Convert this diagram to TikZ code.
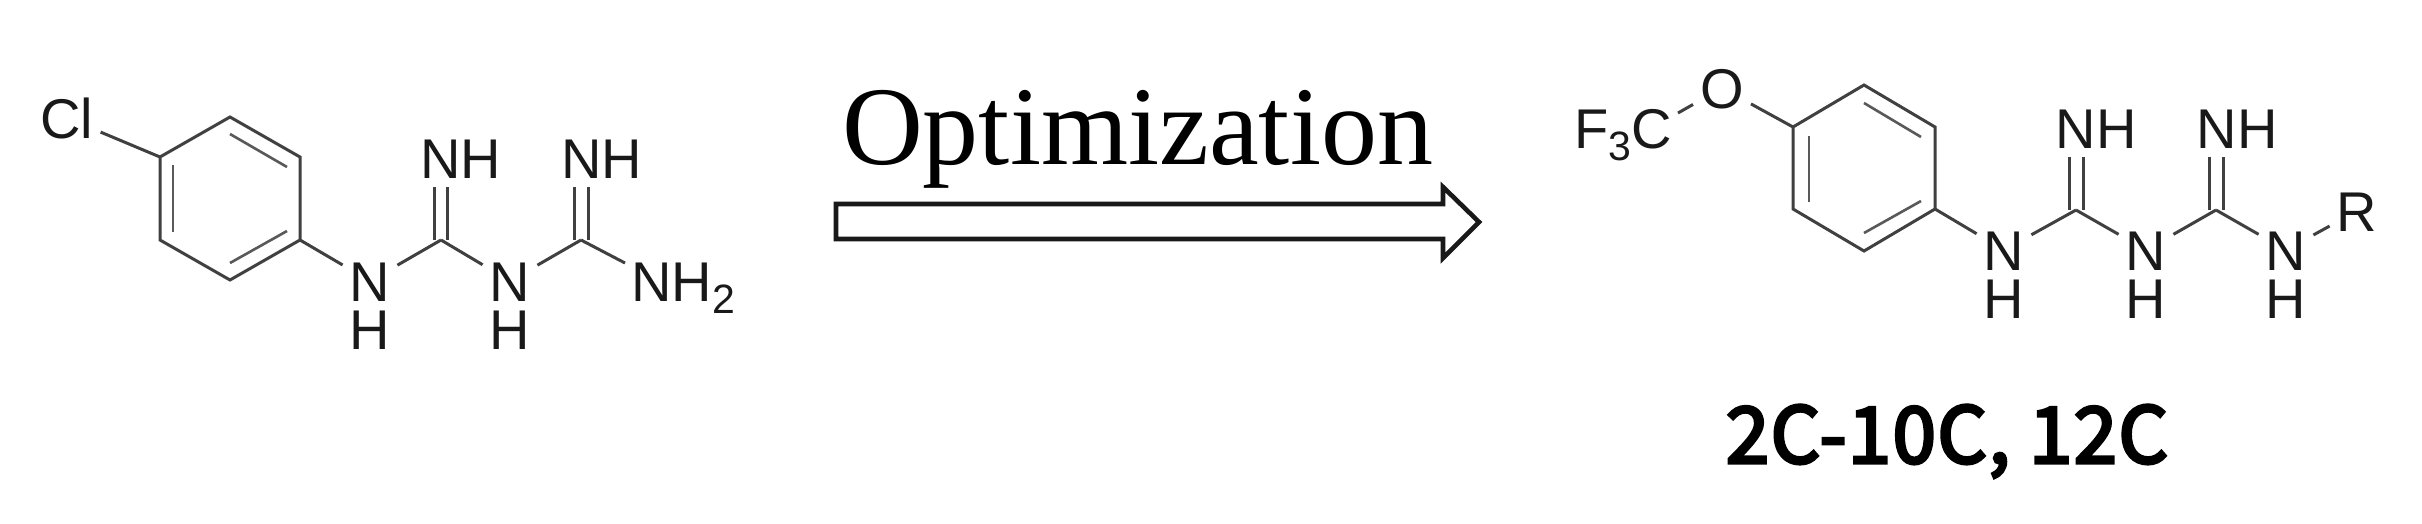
\documentclass[tikz,border=0pt]{standalone}
\usepackage{fontspec}
\usetikzlibrary{calc}
\setmainfont{Liberation Sans}
\newfontfamily\serifface{Liberation Serif}
\newfontfamily\labelface[FakeBold=4,LetterSpace=1.8]{Noto Sans CJK SC}
\tikzset{
  x=1pt,y=-1pt,
  atom/.style={inner sep=7pt,text height=40pt,text depth=0pt,anchor=center,text=black!90,font=\fontsize{56}{56}\selectfont},
  hatom/.style={atom,inner sep=0pt},
  imine/.style={atom,inner xsep=2pt,inner ysep=9pt},
  bond/.style={line width=3pt,draw=black!75,line join=miter},
  thinbond/.style={line width=2.6pt,draw=black!65},
  bigarrow/.style={line width=4.6pt,draw=black!90,fill=white,line join=miter},
}
\newcommand{\subdigit}[1]{\raisebox{-12pt}{\fontsize{41}{41}\selectfont #1}}
\begin{document}
\begin{tikzpicture}
\useasboundingbox (0,0) rectangle (2422,523);
\fill[white] (0,0) rectangle (2422,523);
% ---- left molecule
\coordinate (a1) at (230,117); \coordinate (a2) at (300,157); \coordinate (a3) at (300,240);
\coordinate (a4) at (230,280); \coordinate (a5) at (160,240); \coordinate (a6) at (160,157);
\coordinate (c1) at (441,240); \coordinate (c2) at (581,240);
\node[atom] (cl) at (67,118) {Cl};
\node[atom] (n1) at (370,281) {N};
\node[hatom] (h1) at (370,329) {H};
\node[atom] (n2) at (510,281) {N};
\node[hatom] (h2) at (510,329) {H};
\node[imine] (im1) at (461,158) {NH};
\node[imine] (im2) at (602,158) {NH};
\node[atom,anchor=west,inner sep=0pt] (nh2) at (631,281) {NH\subdigit{2}};
\coordinate (nh2end) at (625,263);
\draw[bond] (a1)--(a2)--(a3)--(a4)--(a5)--(a6)--cycle;
\draw[thinbond] (173,165)--(173,232);
\draw[thinbond] (230,134)--(287,167);
\draw[thinbond] (230,263)--(287,231);
\draw[bond] (cl)--(a6);
\draw[bond] (a3)--(n1);
\draw[bond] (n1)--(c1);
\draw[bond] (c1)--(n2);
\draw[bond] (n2)--(c2);
\draw[bond] (c2)--(nh2end);
\draw[bond] ([xshift=-6.5pt]c1)--([xshift=-6.5pt]c1|-im1.south);
\draw[bond] ([xshift=6.5pt]c1)--([xshift=6.5pt]c1|-im1.south);
\draw[bond] ([xshift=-7pt]c2)--([xshift=-7pt]c2|-im2.south);
\draw[bond] ([xshift=7pt]c2)--([xshift=7pt]c2|-im2.south);
% ---- arrow
\coordinate (t0) at (836,204); \coordinate (t1) at (1443,204); \coordinate (t2) at (1443,187);
\coordinate (tip) at (1479,222);
\coordinate (t3) at (1443,258); \coordinate (t4) at (1443,239); \coordinate (t5) at (836,239);
\draw[bigarrow] (t0)--(t1)--(t2)--(tip)--(t3)--(t4)--(t5)--cycle;
\node[inner sep=0pt,anchor=base,font=\serifface\fontsize{112}{112}\selectfont] (opt) at (1137.5,164) {Optimization};
% ---- right molecule
\coordinate (b1) at (1864,85); \coordinate (b2) at (1935,127); \coordinate (b3) at (1935,209);
\coordinate (b4) at (1864,251); \coordinate (b5) at (1793,209); \coordinate (b6) at (1793,127);
\coordinate (d1) at (2076,210); \coordinate (d2) at (2216,210);
\node[atom] (ox) at (1722,88) {O};
\node[atom,anchor=west,inner sep=0pt] (f3c) at (1574,128) {F\subdigit{3}C};
\coordinate (f3cend) at (1678,113);
\node[atom] (rn1) at (2004,250) {N};
\node[hatom] (rh1) at (2004,298) {H};
\node[atom] (rn2) at (2146,250) {N};
\node[hatom] (rh2) at (2146,298) {H};
\node[atom] (rn3) at (2286,250) {N};
\node[hatom] (rh3) at (2286,298) {H};
\node[atom] (rr) at (2357,211) {R};
\node[imine] (rim1) at (2096,128) {NH};
\node[imine] (rim2) at (2237,128) {NH};
\draw[bond] (b1)--(b2)--(b3)--(b4)--(b5)--(b6)--cycle;
\draw[thinbond] (1809,136)--(1809,202);
\draw[thinbond] (1864,103)--(1921,137);
\draw[thinbond] (1864,233)--(1921,201);
\draw[bond] (ox)--(b6);
\draw[bond] (ox)--(f3cend);
\draw[bond] (b3)--(rn1);
\draw[bond] (rn1)--(d1);
\draw[bond] (d1)--(rn2);
\draw[bond] (rn2)--(d2);
\draw[bond] (d2)--(rn3);
\draw[bond] (rn3)--(rr);
\draw[bond] ([xshift=-7pt]d1)--([xshift=-7pt]d1|-rim1.south);
\draw[bond] ([xshift=7pt]d1)--([xshift=7pt]d1|-rim1.south);
\draw[bond] ([xshift=-7pt]d2)--([xshift=-7pt]d2|-rim2.south);
\draw[bond] ([xshift=7pt]d2)--([xshift=7pt]d2|-rim2.south);
% ---- compound label
\node[inner sep=0pt,anchor=base,font=\labelface\fontsize{78}{78}\selectfont] (lab) at (1947,463) {2C-10C, 12C};
\end{tikzpicture}
\end{document}
